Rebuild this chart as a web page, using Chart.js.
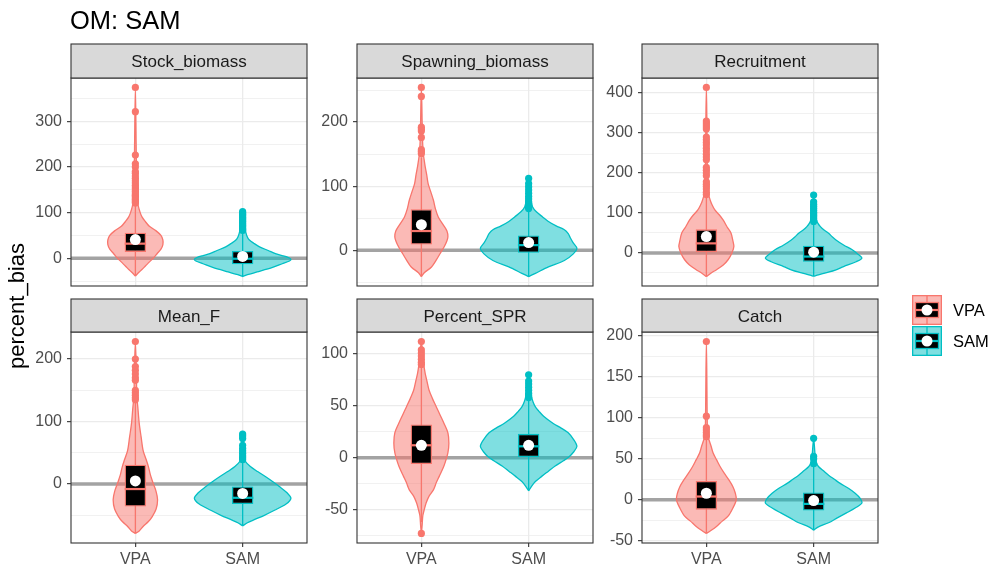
<!DOCTYPE html>
<html>
<head>
<meta charset="utf-8">
<script src="https://cdn.jsdelivr.net/npm/chart.js@4.4.1/dist/chart.umd.min.js"></script>
<style>
  html, body { margin: 0; padding: 0; background: #ffffff; }
  #figure { position: relative; width: 990px; height: 567px; overflow: hidden; background: #ffffff; }
  #figure canvas { position: absolute; left: 0; top: 0; }
</style>
</head>
<body>
<div id="figure"></div>
<script>
// ---------------------------------------------------------------------------
// Data
// ---------------------------------------------------------------------------
const FIGURE_TITLE = 'OM: SAM';
const Y_TITLE = 'percent_bias';
const PANELS = ['Stock_biomass', 'Spawning_biomass', 'Recruitment', 'Mean_F', 'Percent_SPR', 'Catch'];
const GROUPS = ['VPA', 'SAM'];

// Major y tick labels for each panel
const Y_TICKS = [
  [0, 100, 200, 300],
  [0, 100, 200],
  [0, 100, 200, 300, 400],
  [0, 100, 200],
  [-50, 0, 50, 100],
  [-50, 0, 50, 100, 150, 200]
];

// Violin density profiles: [percent_bias, density as % of the panel's peak density]
const violinStockVPA = [[-39,0],[-30,8],[-20,18],[-10,27],[0,37],[10,45],[20,53],[30,57],[40,57],[50,53],[60,43],[70,29],[80,21],[90,14],[100,10],[115,6],[140,4],[180,2.5],[250,1.6],[374,0]];
const violinStockSAM = [[-40,0],[-36,10],[-30,30],[-20,62],[-12,82],[-6,97],[-2,100],[2,94],[6,82],[10,68],[17,53],[25,35],[33,23],[40,14],[46,10],[55,7],[65,5],[80,3],[95,2],[102,0]];
const violinSpawnVPA = [[-41,0],[-35,6],[-26,21],[-15,31],[-5,39],[5,47],[15,53],[21,55],[30,53],[40,45],[52,35],[65,29],[78,25],[90,20],[104,14],[118,11],[130,8],[140,6],[151,4],[170,2.5],[200,1.6],[254,0]];
const violinSpawnSAM = [[-41,0],[-36,14],[-26,41],[-16,74],[-6,92],[3,100],[12,92],[20,86],[26,82],[32,74],[38,57],[45,41],[52,29],[60,16],[68,8],[78,5],[90,3],[112,0]];
const violinRecruitVPA = [[-59,0],[-50,10],[-42,21],[-30,35],[-17,45],[0,53],[16,57],[30,55],[50,51],[65,43],[82,35],[95,27],[107,18],[120,12],[132,8],[150,4],[180,2.5],[250,1.6],[330,1],[414,0]];
const violinRecruitSAM = [[-58,0],[-55,10],[-50,25],[-43,45],[-34,62],[-22,88],[-13,100],[-3,92],[8,80],[20,62],[32,47],[40,39],[49,31],[58,21],[66,14],[74,9],[82,6],[100,3],[145,0]];
const violinMeanFVPA = [[-79,0],[-75,8],[-68,16],[-60,27],[-52,35],[-40,43],[-25,46],[-12,43],[1,37],[15,31],[28,27],[40,22],[54,16],[75,12],[97,8],[124,5],[140,3],[180,2],[228,0]];
const violinMeanFSAM = [[-67,0],[-62,10],[-58,21],[-50,45],[-42,66],[-32,90],[-23,100],[-14,92],[-4,76],[4,62],[12,47],[20,31],[28,16],[36,6],[45,4],[60,2.5],[80,0]];
const violinSprVPA = [[-73,0],[-65,1.6],[-56,3],[-50,6],[-43.5,10],[-37,16],[-31,25],[-24,31],[-18,37],[-10,45],[-5,49],[5,55],[14,57],[24,55],[33,47],[41,39],[49,31],[57,23],[65,16],[73,12],[81,8],[90,5],[97,3.5],[112,0]];
const violinSprSAM = [[-32,0],[-27.6,6],[-23,14],[-18,27],[-13,41],[-8,55],[-3,72],[1,84],[6,94],[11,100],[17,94],[24,82],[29,66],[33,51],[40,31],[45,21],[49,14],[54,9],[59,6],[65,4],[80,0]];
const violinCatchVPA = [[-41,0],[-38,8],[-32.5,21],[-26,33],[-20,45],[-10,55],[0,62],[8,60],[16,55],[24,47],[32.5,37],[40,29],[49,21],[57,14],[65,10],[72,6],[77,3.5],[90,2],[193,0]];
const violinCatchSAM = [[-37,0],[-33,10],[-28,31],[-22,49],[-16,68],[-10,86],[-4,100],[2,96],[8,86],[14,72],[20,55],[25,43],[30,31],[35,21],[40.6,10],[45,6],[55,3],[75,0]];

const VIOLINS_VPA = [violinStockVPA, violinSpawnVPA, violinRecruitVPA, violinMeanFVPA, violinSprVPA, violinCatchVPA];
const VIOLINS_SAM = [violinStockSAM, violinSpawnSAM, violinRecruitSAM, violinMeanFSAM, violinSprSAM, violinCatchSAM];

// Box statistics per panel: [lower whisker, Q1, median, Q3, upper whisker]
const boxVPA = [[-39,14,32,56,115],[-41,9,30,64,145],[-59,2,24,59,140],[-79,-36,-8,31,131],[-62,-6,12,32,88],[-41,-12,4,23,74]];
const boxSAM = [[-40,-13,-1,16,58],[-41,-4,8,23,62],[-58,-22,-9,18,76],[-67,-32,-22,-4,36],[-32,0,11,23,57],[-37,-13,-5,9,40]];

// Means per panel
const meanVPA = [41, 40, 41, 5, 12, 8];
const meanSAM = [4, 12, 2, -15, 12, -1];

// Outlying values per panel
const outliersVPA = [
  [374,321,226,207,200,190,186,180,175,170,165,160,156,152,148,145,141,138,135,132,129,126,123,121],
  [254,240,192,189,186,176,157,154,151],
  [414,330,325,320,315,310,290,283,276,270,262,255,247,240,233,214,207,200,193,178,172,166,160,152,146],
  [228,200,188,182,176,170,166,150,146,142,138,135],
  [112,104,101,98,95,92,90,-73],
  [193,102,88,85,82,79,77]
];
const outliersSAM = [
  [102,99,96,93,90,87,84,81,78,75,72,69,66,63,61],
  [112,104,99,94,89,84,80,76,73,70,67,65],
  [145,128,122,117,112,107,102,98,94,90,86,82,79],
  [80,77,73,62,57,53,49,45,42,39],
  [80,74,71,68,65,62,60,58],
  [75,53,50,44]
];

// ---------------------------------------------------------------------------
// Layout and style
// ---------------------------------------------------------------------------
const W = 990, H = 567;
const FONT = '"Liberation Sans", Arial, Helvetica, sans-serif';
const COLORS = ['#F8766D', '#00BFC4'];
const FILLS = ['rgba(248,118,109,0.5)', 'rgba(0,191,196,0.5)'];
const COL_LEFT = [71, 357, 642];
const PANEL_W = 236;
const ROW_TOP = [78, 332];
const ROW_BOTTOM = [286, 543];
const STRIP_H = [34, 33];
const Y_AXIS_W = 60;
const X_AXIS_H = 24;
const X_MIN = 0.4, X_MAX = 2.6;      // discrete axis with 0.6 expansion on each side
const VIOLIN_HALF = 0.45;            // half of the widest violin (width 0.9)
const BOX_W = 0.2;                   // box width in category units

function violinPoints(profile, center) {
  const right = profile.map(([v, d]) => ({ x: center + d / 100 * VIOLIN_HALF, y: v }));
  const left = profile.slice(1, -1).reverse().map(([v, d]) => ({ x: center - d / 100 * VIOLIN_HALF, y: v }));
  return [...right, ...left, right[0]];
}

function yRange(i) {
  const vals = [];
  [VIOLINS_VPA[i], VIOLINS_SAM[i]].forEach(p => p.forEach(([v]) => vals.push(v)));
  outliersVPA[i].concat(outliersSAM[i]).forEach(v => vals.push(v));
  const lo = Math.min(...vals), hi = Math.max(...vals);
  const pad = (hi - lo) * 0.05;
  return [lo - pad, hi + pad];
}

function yTickValues(i, lo, hi) {
  const majors = Y_TICKS[i];
  const step = majors[1] - majors[0];
  const all = [];
  for (let v = majors[0] - step * 1.5; v <= majors[majors.length - 1] + step * 1.5; v += step / 2) {
    if (v >= lo && v <= hi) all.push(v);
  }
  return all;
}

// Panel frame + strip label
function panelDecor(name, stripH) {
  return {
    id: 'panelDecor',
    afterDraw(chart) {
      const a = chart.chartArea;
      const ctx = chart.ctx;
      ctx.save();
      ctx.strokeStyle = '#333333';
      ctx.lineWidth = 1.1;
      ctx.strokeRect(a.left, a.top, a.right - a.left, a.bottom - a.top);
      ctx.fillStyle = '#d9d9d9';
      ctx.fillRect(a.left, a.top - stripH, a.right - a.left, stripH);
      ctx.strokeRect(a.left, a.top - stripH, a.right - a.left, stripH);
      ctx.fillStyle = '#1a1a1a';
      ctx.font = '17px ' + FONT;
      ctx.textAlign = 'center';
      ctx.textBaseline = 'alphabetic';
      ctx.fillText(name, (a.left + a.right) / 2, a.top - stripH / 2 + 17 * 0.36);
      ctx.restore();
    }
  };
}

// Figure title and shared y-axis title
const figureText = {
  id: 'figureText',
  afterDraw(chart) {
    const ctx = chart.ctx;
    ctx.save();
    ctx.fillStyle = '#000000';
    ctx.font = '25.5px ' + FONT;
    ctx.textAlign = 'left';
    ctx.textBaseline = 'alphabetic';
    ctx.fillText(FIGURE_TITLE, 70, 28.5);
    ctx.translate(24, 306);
    ctx.rotate(-Math.PI / 2);
    ctx.font = '22px ' + FONT;
    ctx.textAlign = 'center';
    ctx.fillText(Y_TITLE, 0, 0);
    ctx.restore();
  }
};

// Legend with violin + box keys
const legendKeys = {
  id: 'legendKeys',
  afterDraw(chart) {
    const ctx = chart.ctx;
    const kx = 912, ky = [295, 326], ks = 30;
    ctx.save();
    GROUPS.forEach((g, gi) => {
      const x = kx, y = ky[gi];
      ctx.fillStyle = FILLS[gi];
      ctx.fillRect(x, y, ks, ks);
      ctx.strokeStyle = COLORS[gi];
      ctx.lineWidth = 1.3;
      ctx.strokeRect(x + 0.65, y + 0.65, ks - 1.3, ks - 1.3);
      ctx.beginPath();
      ctx.moveTo(x + ks / 2, y + 1);
      ctx.lineTo(x + ks / 2, y + ks - 1);
      ctx.stroke();
      ctx.fillStyle = '#000000';
      ctx.fillRect(x + 3.5, y + 7.5, ks - 7, ks - 15);
      ctx.strokeRect(x + 3.5, y + 7.5, ks - 7, ks - 15);
      ctx.lineWidth = 2.2;
      ctx.beginPath();
      ctx.moveTo(x + 3.5, y + ks / 2);
      ctx.lineTo(x + ks - 3.5, y + ks / 2);
      ctx.stroke();
      ctx.fillStyle = '#ffffff';
      ctx.beginPath();
      ctx.arc(x + ks / 2, y + ks / 2, 5.5, 0, Math.PI * 2);
      ctx.fill();
      ctx.fillStyle = '#000000';
      ctx.font = '16.5px ' + FONT;
      ctx.textAlign = 'left';
      ctx.textBaseline = 'alphabetic';
      ctx.fillText(g, 953, y + ks / 2 + 16.5 * 0.36);
    });
    ctx.restore();
  }
};

// ---------------------------------------------------------------------------
// Charts (one per facet)
// ---------------------------------------------------------------------------
const fig = document.getElementById('figure');

PANELS.forEach((name, i) => {
  const col = i % 3, row = Math.floor(i / 3);
  const left = COL_LEFT[col], right = left + PANEL_W;
  const top = ROW_TOP[row], bottom = ROW_BOTTOM[row];
  const xAxisH = row === 1 ? X_AXIS_H : 0;
  const [yMin, yMax] = yRange(i);
  const majors = Y_TICKS[i];
  const yTicks = yTickValues(i, yMin, yMax);
  const isMajor = v => majors.some(m => Math.abs(m - v) < 1e-9);

  const canvas = document.createElement('canvas');
  canvas.width = W; canvas.height = H;
  canvas.style.width = W + 'px'; canvas.style.height = H + 'px';
  fig.appendChild(canvas);

  const boxes = [boxVPA[i], boxSAM[i]];
  const means = [meanVPA[i], meanSAM[i]];
  const violins = [VIOLINS_VPA[i], VIOLINS_SAM[i]];
  const outliers = [outliersVPA[i], outliersSAM[i]];

  const datasets = [];
  // mean markers (top)
  datasets.push({
    type: 'scatter', order: 1,
    data: means.map((m, g) => ({ x: g + 1, y: m })),
    pointRadius: 5.5, pointBackgroundColor: '#ffffff', pointBorderWidth: 0, showLine: false
  });
  GROUPS.forEach((g, gi) => {
    const c = gi + 1;
    // outliers
    datasets.push({
      type: 'scatter', order: 2,
      data: outliers[gi].map(v => ({ x: c, y: v })),
      pointRadius: 3.6, pointBackgroundColor: COLORS[gi], pointBorderWidth: 0, showLine: false
    });
    // median
    datasets.push({
      type: 'scatter', order: 3, showLine: true,
      data: [{ x: c - BOX_W / 2, y: boxes[gi][2] }, { x: c + BOX_W / 2, y: boxes[gi][2] }],
      borderColor: COLORS[gi], borderWidth: 2.2, pointRadius: 0, fill: false
    });
    // whisker
    datasets.push({
      type: 'scatter', order: 5, showLine: true,
      data: [{ x: c, y: boxes[gi][0] }, { x: c, y: boxes[gi][4] }],
      borderColor: COLORS[gi], borderWidth: 1.3, pointRadius: 0, fill: false
    });
    // violin
    datasets.push({
      type: 'scatter', order: 6, showLine: true,
      data: violinPoints(violins[gi], c),
      borderColor: COLORS[gi], backgroundColor: FILLS[gi], borderWidth: 1.3,
      fill: 'shape', tension: 0.3, pointRadius: 0
    });
  });
  // interquartile boxes
  datasets.push({
    type: 'bar', order: 4,
    data: boxes.map((b, gi) => ({ x: gi + 1, y: [b[1], b[3]] })),
    backgroundColor: '#000000', borderColor: COLORS, borderWidth: 1.3, borderSkipped: false,
    categoryPercentage: 1, barPercentage: BOX_W
  });
  // zero reference line
  datasets.push({
    type: 'scatter', order: 7, showLine: true,
    data: [{ x: X_MIN, y: 0 }, { x: X_MAX, y: 0 }],
    borderColor: '#a3a3a3', borderWidth: 3.5, pointRadius: 0, fill: false
  });

  const plugins = [panelDecor(name, STRIP_H[row])];
  if (i === 0) plugins.push(figureText);
  if (i === PANELS.length - 1) plugins.push(legendKeys);

  new Chart(canvas, {
    type: 'scatter',
    data: { datasets },
    plugins,
    options: {
      responsive: false,
      animation: false,
      devicePixelRatio: 1,
      events: [],
      layout: {
        padding: { left: left - Y_AXIS_W, right: W - right, top: top, bottom: H - bottom - xAxisH }
      },
      plugins: { legend: { display: false }, tooltip: { enabled: false }, title: { display: false } },
      scales: {
        x: {
          type: 'linear', min: X_MIN, max: X_MAX, bounds: 'data', offset: false,
          afterBuildTicks: s => { s.ticks = [{ value: 1 }, { value: 2 }]; },
          afterFit: s => { s.height = xAxisH; },
          border: { display: false },
          grid: {
            offset: false,
            color: '#ebebeb', lineWidth: 1.3,
            drawTicks: row === 1, tickLength: 4, tickColor: '#333333', tickWidth: 1.1
          },
          ticks: {
            display: row === 1, autoSkip: false, maxRotation: 0, padding: 3,
            color: '#4d4d4d', font: { family: FONT, size: 16 },
            callback: v => GROUPS[Math.round(v) - 1]
          }
        },
        y: {
          type: 'linear', min: yMin, max: yMax, bounds: 'data',
          afterBuildTicks: s => { s.ticks = yTicks.map(v => ({ value: v })); },
          afterFit: s => { s.width = Y_AXIS_W; },
          border: { display: false },
          grid: {
            offset: false,
            color: '#ebebeb',
            lineWidth: ctx => (ctx.tick && isMajor(ctx.tick.value)) ? 1.3 : 0.7,
            drawTicks: true, tickLength: 4,
            tickColor: ctx => (ctx.tick && isMajor(ctx.tick.value)) ? '#333333' : 'rgba(0,0,0,0)',
            tickWidth: 1.1
          },
          ticks: {
            autoSkip: false, padding: 5,
            color: '#4d4d4d', font: { family: FONT, size: 16 },
            callback: v => isMajor(v) ? String(v) : ''
          }
        }
      }
    }
  });
});
</script>
</body>
</html>
